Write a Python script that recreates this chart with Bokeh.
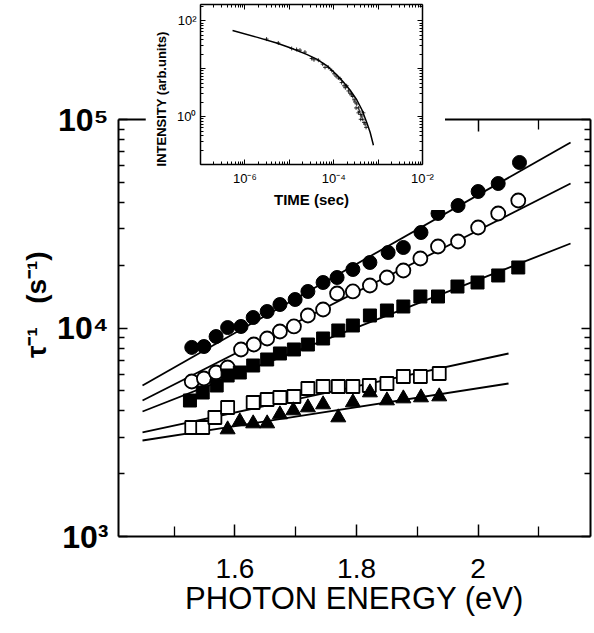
from bokeh.plotting import figure
from bokeh.models import FixedTicker, CustomJSTickFormatter, LinearAxis, LogAxis, Range1d
from bokeh.embed import file_html
from bokeh.resources import INLINE

# ---------------- main panel data ----------------
fc_x = [1.529, 1.549, 1.569, 1.588, 1.610, 1.630, 1.653, 1.674, 1.699, 1.720, 1.745,
        1.768, 1.794, 1.822, 1.852, 1.877, 1.906, 1.934, 1.967, 2.000, 2.033, 2.068]
fc_y = [8070, 8150, 9100, 10050, 10170, 11230, 12000, 12960, 13700, 14970, 16530,
        17470, 19080, 20620, 23020, 24330, 28710, 35420, 38680, 45150, 49320, 62210]
oc_x = [1.529, 1.549, 1.569, 1.588, 1.610, 1.631, 1.653, 1.674, 1.697, 1.720, 1.745,
        1.768, 1.794, 1.822, 1.850, 1.877, 1.905, 1.934, 1.967, 2.000, 2.033, 2.066]
oc_y = [5540, 5725, 6117, 6465, 7888, 8334, 8906, 9620, 10170, 11480, 12270,
        14640, 14970, 15990, 17470, 18870, 21540, 24600, 25990, 30340, 35420, 40880]
fs_x = [1.526, 1.547, 1.570, 1.588, 1.608, 1.630, 1.653, 1.674, 1.697, 1.720, 1.745,
        1.770, 1.794, 1.822, 1.850, 1.877, 1.905, 1.934, 1.966, 1.999, 2.033, 2.066]
fs_y = [4490, 4905, 5300, 5919, 6117, 6609, 7062, 7546, 7888, 8334, 8906,
        9728, 10280, 11480, 12130, 12680, 14160, 14160, 15810, 16530, 17860, 19510]
os_x = [1.529, 1.547, 1.567, 1.588, 1.630, 1.653, 1.674, 1.697, 1.720, 1.745, 1.770,
        1.794, 1.821, 1.850, 1.877, 1.905, 1.936]
os_y = [3333, 3333, 3722, 4157, 4393, 4541, 4642, 4693, 5126, 5241, 5241,
        5241, 5300, 5417, 5854, 5854, 6050]
tr_x = [1.588, 1.608, 1.630, 1.653, 1.674, 1.696, 1.720, 1.745, 1.770, 1.794, 1.822,
        1.850, 1.877, 1.906, 1.936]
tr_y = [3260, 3561, 3483, 3483, 3847, 4021, 4157, 4297, 3722, 4393, 4905,
        4490, 4590, 4642, 4693]

# fitted lines (end points)
fit_x_long = [1.448, 2.152]
fit_x_short = [1.448, 2.050]
fit_fc = [5300, 77560]
fit_oc = [4490, 49320]
fit_fs = [3977, 25430]
fit_os = [3154, 7546]
fit_tr = [2887, 5417]

x_major = [1.6, 1.8, 2.0]
x_minor = [1.5, 1.7, 1.9, 2.1]
y_major = [1e3, 1e4, 1e5]
y_minor = [m * 10 ** e for e in (3, 4) for m in range(2, 10)]

# ---------------- inset data ----------------
curve_t = [5.27e-7, 1.83e-6, 5.18e-6, 1.04e-5, 2.46e-5, 4.14e-5, 6.95e-5, 1.17e-4,
           1.65e-4, 2.33e-4, 3.30e-4, 4.29e-4, 5.55e-4, 6.61e-4, 7.85e-4]
curve_i = [62.7, 45.8, 34.6, 27.4, 20.0, 15.9, 11.6, 7.50, 5.31, 3.60, 2.25, 1.41,
           0.755, 0.473, 0.253]
pts_t = [3.08e-6, 5.65e-6, 1.13e-5, 1.46e-5, 1.74e-5, 2.25e-5, 3.19e-5, 3.60e-5,
         4.51e-5, 5.65e-5, 6.38e-5, 7.59e-5, 9.02e-5, 1.02e-4, 1.13e-4, 1.27e-4,
         1.39e-4, 1.51e-4, 1.71e-4, 1.83e-4, 1.96e-4, 2.14e-4, 2.33e-4, 2.50e-4,
         2.68e-4, 2.88e-4, 3.03e-4, 3.30e-4, 3.60e-4, 3.79e-4, 4.06e-4, 4.29e-4,
         4.51e-4, 4.67e-4, 4.83e-4, 5.09e-4, 5.36e-4, 4.06e-4, 3.60e-4, 3.19e-4]
pts_i = [41.7, 34.6, 26.5, 25.3, 24.5, 22.3, 16.4, 15.4, 15.1, 12.5, 10.7, 10.7,
         9.18, 7.85, 7.03, 6.41, 6.21, 5.15, 4.41, 4.01, 4.41, 3.44, 3.08, 2.85,
         2.63, 2.25, 2.02, 1.84, 1.52, 1.30, 1.11, 1.03, 0.88, 1.20, 0.755, 0.698,
         0.597, 0.88, 1.20, 1.52]
in_x_major = [10.0 ** e for e in range(-7, -1)]
in_x_minor = [m * 10.0 ** e for e in range(-7, -2) for m in range(2, 10)]
in_y_major = [0.1, 1.0, 10.0, 100.0]
in_y_minor = [m * 10.0 ** e for e in range(-1, 3) for m in range(2, 10)]

FONT = "Liberation Sans"
SUP_JS = """
const s = {'0':'\u2070','1':'\u00b9','2':'\u00b2','3':'\u00b3','4':'\u2074','5':'\u2075',
           '6':'\u2076','7':'\u2077','8':'\u2078','9':'\u2079','-':'\u207b'};
const e = Math.round(Math.log10(tick));
"""
EMPTY = "return '';"

W, H = 594, 633
p = figure(width=W, height=H, x_range=Range1d(1.4085, 2.1848), y_range=Range1d(1e3, 1e5),
           y_axis_type="log", output_backend="svg", toolbar_location=None,
           min_border_left=118, min_border_right=4, min_border_top=119, min_border_bottom=97,
           outline_line_color=None)
p.grid.visible = False

xt = FixedTicker(ticks=x_major, minor_ticks=x_minor)
yt = FixedTicker(ticks=y_major, minor_ticks=y_minor)

xa = p.xaxis[0]
xa.ticker = xt
xa.formatter = CustomJSTickFormatter(code="return Math.abs(tick-2)<1e-9 ? '2' : tick.toFixed(1);")
ya = p.yaxis[0]
ya.ticker = yt
ya.formatter = CustomJSTickFormatter(code=SUP_JS + "return '10' + String(e).split('').map(c => s[c]).join('');")

top_ax = LinearAxis(ticker=xt, formatter=CustomJSTickFormatter(code=EMPTY))
right_ax = LogAxis(ticker=yt, formatter=CustomJSTickFormatter(code=EMPTY))
p.add_layout(top_ax, "above")
p.add_layout(right_ax, "right")

for ax in (xa, top_ax):
    ax.major_tick_in = 12
    ax.minor_tick_in = 10
for ax in (ya, right_ax):
    ax.major_tick_in = 9
    ax.minor_tick_in = 6
for ax in (xa, ya, top_ax, right_ax):
    ax.major_tick_out = 0
    ax.minor_tick_out = 0
    ax.axis_line_width = 2
    ax.major_tick_line_width = 1.5
    ax.minor_tick_line_width = 1.3
    ax.axis_line_color = "black"
    ax.major_tick_line_color = "black"
    ax.minor_tick_line_color = "black"
for ax in (top_ax, right_ax):
    ax.major_label_text_font_size = "1px"
    ax.major_label_standoff = 0
    ax.axis_label_standoff = 0

xa.major_label_text_font = FONT
xa.major_label_text_font_size = "28px"
xa.major_label_text_color = "black"
xa.major_label_standoff = 22
xa.axis_label = "PHOTON ENERGY (eV)"
xa.axis_label_text_font = FONT
xa.axis_label_text_font_size = "31px"
xa.axis_label_text_font_style = "normal"
xa.axis_label_text_color = "black"
xa.axis_label_standoff = 0

ya.major_label_text_font = FONT
ya.major_label_text_font_size = "32px"
ya.major_label_text_font_style = "bold"
ya.major_label_text_color = "black"
ya.major_label_standoff = 10
ya.axis_label = "\u00a0" * 6 + "\u03c4\u207b\u00b9\u00a0\u00a0\u00a0(s\u207b\u00b9)"
ya.axis_label_text_font = FONT
ya.axis_label_text_font_size = "28px"
ya.axis_label_text_font_style = "bold"
ya.axis_label_text_color = "black"
ya.axis_label_standoff = 2

# fitted lines
for fx, fy in ((fit_x_long, fit_fc), (fit_x_long, fit_oc), (fit_x_long, fit_fs),
               (fit_x_short, fit_os), (fit_x_short, fit_tr)):
    p.line(fx, fy, line_color="black", line_width=1.8)

# markers
p.scatter(fc_x, fc_y, marker="circle", size=14, fill_color="black", line_color="black")
p.scatter(oc_x, oc_y, marker="circle", size=14, fill_color="white", line_color="black", line_width=1.8)
p.scatter(fs_x, fs_y, marker="square", size=13, fill_color="black", line_color="black")
p.scatter(os_x, os_y, marker="square", size=13, fill_color="white", line_color="black", line_width=1.8)
p.scatter(tr_x, tr_y, marker="triangle", size=15, fill_color="black", line_color="black")

# ---------------- inset ----------------
ins = figure(width=300, height=210, x_axis_type="log", y_axis_type="log",
             x_range=Range1d(1e-7, 1e-2), y_range=Range1d(0.1, 220),
             output_backend="svg", toolbar_location=None,
             min_border_left=55, min_border_right=23, min_border_top=4, min_border_bottom=43,
             outline_line_color=None)
ins.grid.visible = False
ixt = FixedTicker(ticks=in_x_major, minor_ticks=in_x_minor)
iyt = FixedTicker(ticks=in_y_major, minor_ticks=in_y_minor)
ixa = ins.xaxis[0]
iya = ins.yaxis[0]
ixa.ticker = ixt
iya.ticker = iyt
ixa.formatter = CustomJSTickFormatter(code=SUP_JS + "if (e % 2 !== 0) return ''; return '10' + String(e).split('').map(c => s[c]).join('');")
iya.formatter = CustomJSTickFormatter(code=SUP_JS + "if (!(e === 0 || e === 2)) return ''; return '10' + String(e).split('').map(c => s[c]).join('');")
itop = LogAxis(ticker=ixt, formatter=CustomJSTickFormatter(code=EMPTY))
iright = LogAxis(ticker=iyt, formatter=CustomJSTickFormatter(code=EMPTY))
ins.add_layout(itop, "above")
ins.add_layout(iright, "right")
for ax in (ixa, iya, itop, iright):
    ax.major_tick_in = 5
    ax.minor_tick_in = 3
    ax.major_tick_out = 0
    ax.minor_tick_out = 0
    ax.axis_line_width = 1.5
    ax.major_tick_line_width = 1
    ax.minor_tick_line_width = 1
    ax.axis_line_color = "black"
    ax.major_tick_line_color = "black"
    ax.minor_tick_line_color = "black"
for ax in (itop, iright):
    ax.major_label_text_font_size = "1px"
    ax.major_label_standoff = 0
    ax.axis_label_standoff = 0
for ax in (ixa, iya):
    ax.major_label_text_font = FONT
    ax.major_label_text_font_size = "13px"
    ax.major_label_text_color = "black"
    ax.axis_label_text_font = FONT
    ax.axis_label_text_font_style = "bold"
    ax.axis_label_text_color = "black"
ixa.major_label_standoff = 6
ixa.axis_label = "TIME (sec)"
ixa.axis_label_text_font_size = "15px"
ixa.axis_label_standoff = 2
iya.major_label_standoff = 4
iya.axis_label = "INTENSITY (arb.units)" + "\u00a0" * 8
iya.axis_label_text_font_size = "13px"
iya.axis_label_standoff = 5

ins.line(curve_t, curve_i, line_color="black", line_width=1.5)
ins.scatter(pts_t, pts_i, marker="cross", size=4, line_color="black", line_width=0.8)

ins.styles = {"position": "absolute", "left": "145px", "top": "0px", "z-index": "10"}

open("out.html", "w").write(file_html([p, ins], INLINE))
